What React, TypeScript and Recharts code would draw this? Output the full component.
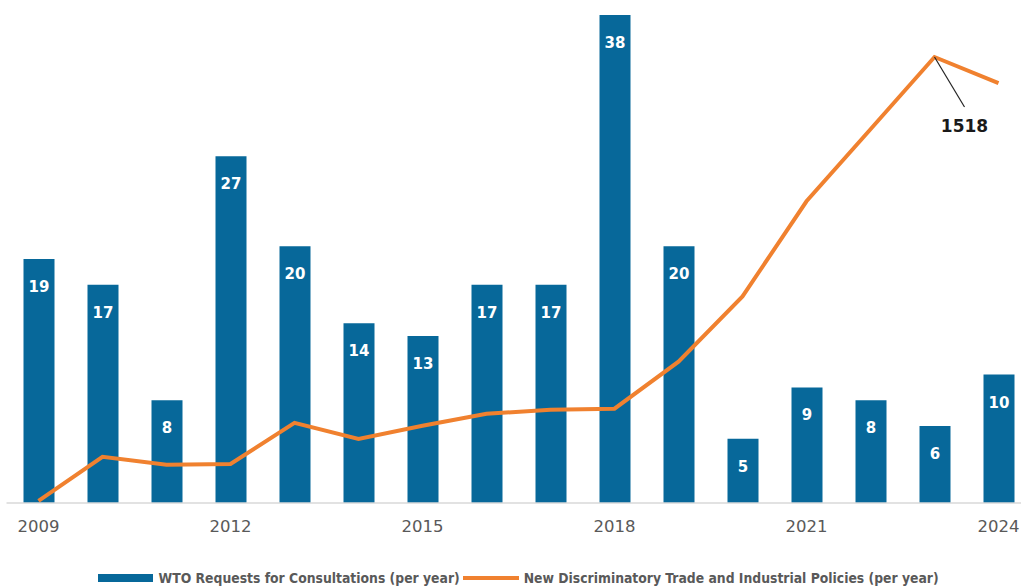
import React from 'react';
import { ComposedChart, Bar, Line, XAxis, YAxis, LabelList, Legend } from 'recharts';

const years = ['2009','2010','2011','2012','2013','2014','2015','2016','2017','2018','2019','2020','2021','2022','2023','2024'];
const wtoRequests = [19, 17, 8, 27, 20, 14, 13, 17, 17, 38, 20, 5, 9, 8, 6, 10];
const newPolicies = [7, 157, 130, 133, 273, 218, 263, 304, 317, 321, 481, 703, 1027, 1272, 1518, 1429];
const annotatedYear = '2023';

const BAR_COLOR = '#07689a';
const LINE_COLOR = '#f0812f';

const data = years.map((y, i) => ({ year: y, wto: wtoRequests[i], policies: newPolicies[i] }));

const FONT = '"DejaVu Sans", Verdana, sans-serif';

const BarLabel = (props: any) => {
  const { x, y, width, value } = props;
  return (
    <text x={x + width / 2} y={y + 33} textAnchor="middle" fill="#ffffff"
      style={{ fontFamily: FONT, fontWeight: 700, fontSize: 15 }}>
      {value}
    </text>
  );
};

const PeakLabel = (props: any) => {
  const { x, y, index, value } = props;
  if (years[index] !== annotatedYear) return null;
  return (
    <g>
      <line x1={x} y1={y} x2={x + 30} y2={y + 50} stroke="#222" strokeWidth={1.2} />
      <text x={x + 30} y={y + 75} textAnchor="middle" fill="#1a1a1a"
        style={{ fontFamily: FONT, fontWeight: 700, fontSize: 17 }}>
        {value}
      </text>
    </g>
  );
};

const LegendContent = () => (
  <div style={{ display: 'flex', alignItems: 'center', height: 20, paddingLeft: 91, fontFamily: '"DejaVu Sans Condensed", "DejaVu Sans", sans-serif', fontWeight: 700, fontSize: 13.8, color: '#595959', whiteSpace: 'nowrap' }}>
    <span style={{ display: 'inline-block', width: 55, height: 8, background: BAR_COLOR, marginRight: 6 }} />
    <span>WTO Requests for Consultations (per year)</span>
    <span style={{ display: 'inline-block', width: 56, height: 4, background: LINE_COLOR, margin: '0 5px 0 3px' }} />
    <span>New Discriminatory Trade and Industrial Policies (per year)</span>
  </div>
);

export default function App() {
  return (
    <div style={{ position: 'absolute', left: 0, top: 0, width: 1021, height: 588, overflow: 'hidden', background: '#fff' }}>
      <ComposedChart width={1040} height={588} data={data}
        margin={{ top: 15, left: 6.5, right: 9.5, bottom: 0 }}>
        <XAxis dataKey="year" interval={2} tickLine={false} tickSize={6} tickMargin={11} height={65}
          axisLine={{ stroke: '#d9d9d9', strokeWidth: 1.5 }}
          tick={{ fill: '#595959', fontSize: 16.5, fontFamily: FONT }} />
        <YAxis yAxisId="left" hide domain={[0, 38]} />
        <YAxis yAxisId="right" orientation="right" hide domain={[0, 1661]} />
        <Legend verticalAlign="bottom" align="left" content={<LegendContent />} wrapperStyle={{ height: 20 }} />
        <Bar yAxisId="left" dataKey="wto" name="WTO Requests for Consultations (per year)" fill={BAR_COLOR} barSize={31} isAnimationActive={false}>
          <LabelList dataKey="wto" content={<BarLabel />} />
        </Bar>
        <Line yAxisId="right" dataKey="policies" name="New Discriminatory Trade and Industrial Policies (per year)" stroke={LINE_COLOR} strokeWidth={4} dot={false} type="linear" isAnimationActive={false}>
          <LabelList dataKey="policies" content={<PeakLabel />} />
        </Line>
      </ComposedChart>
    </div>
  );
}
